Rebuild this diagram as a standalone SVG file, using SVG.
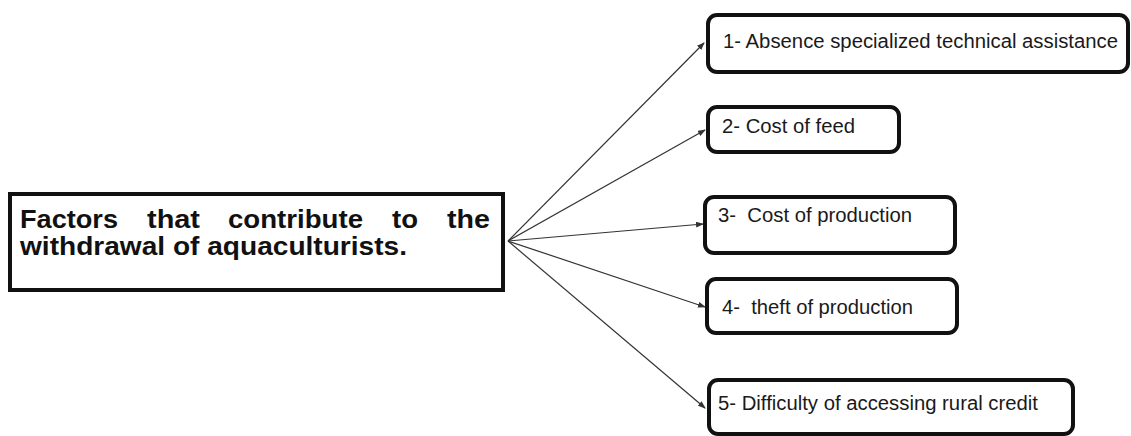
<svg xmlns="http://www.w3.org/2000/svg" width="1131" height="436" viewBox="0 0 1131 436">
<style>
.box{fill:#fff;stroke:#111;stroke-width:4}
.t{font-family:"Liberation Sans",Arial,sans-serif;font-size:20px;fill:#1a1a1a}
.m{font-family:"Liberation Sans",Arial,sans-serif;font-size:25px;font-weight:bold;fill:#111}
.c{stroke:#333;stroke-width:1.2;fill:none;marker-end:url(#ah)}
</style>
<defs>
<marker id="ah" markerWidth="8" markerHeight="6" refX="7" refY="3" orient="auto" markerUnits="userSpaceOnUse">
<path d="M0,0 L8,3 L0,6 Z" fill="#333"/>
</marker>
</defs>
<rect width="1131" height="436" fill="#fff"/>
<g id="connectors">
<line class="c" x1="508" y1="241" x2="704" y2="43"/>
<line class="c" x1="508" y1="241" x2="705" y2="130"/>
<line class="c" x1="508" y1="241" x2="703" y2="224"/>
<line class="c" x1="508" y1="241" x2="705" y2="307"/>
<line class="c" x1="508" y1="241" x2="705" y2="408"/>
</g>
<g id="main">
<rect class="box" x="10" y="194" width="493" height="96"/>
<text class="m" y="228"><tspan x="20" textLength="98" lengthAdjust="spacingAndGlyphs">Factors</tspan><tspan x="147" textLength="53" lengthAdjust="spacingAndGlyphs">that</tspan><tspan x="228" textLength="135" lengthAdjust="spacingAndGlyphs">contribute</tspan><tspan x="392" textLength="26" lengthAdjust="spacingAndGlyphs">to</tspan><tspan x="447" textLength="43" lengthAdjust="spacingAndGlyphs">the</tspan></text>
<text class="m" x="20" y="255" textLength="387" lengthAdjust="spacingAndGlyphs">withdrawal of aquaculturists.</text>
</g>
<g id="n1">
<rect class="box" x="708" y="15" width="420" height="57" rx="9"/>
<text class="t" x="723" y="48" textLength="395" lengthAdjust="spacingAndGlyphs">1- Absence specialized technical assistance</text>
</g>
<g id="n2">
<rect class="box" x="708" y="107" width="191" height="45" rx="9"/>
<text class="t" x="722" y="133" textLength="133" lengthAdjust="spacingAndGlyphs">2- Cost of feed</text>
</g>
<g id="n3">
<rect class="box" x="705" y="197" width="250" height="56" rx="9"/>
<text class="t" x="718" y="222" textLength="194" lengthAdjust="spacingAndGlyphs" xml:space="preserve">3-  Cost of production</text>
</g>
<g id="n4">
<rect class="box" x="707" y="279" width="250" height="54" rx="9"/>
<text class="t" x="722" y="314" textLength="191" lengthAdjust="spacingAndGlyphs" xml:space="preserve">4-  theft of production</text>
</g>
<g id="n5">
<rect class="box" x="709" y="380" width="364" height="54" rx="9"/>
<text class="t" x="718" y="410" textLength="320" lengthAdjust="spacingAndGlyphs">5- Difficulty of accessing rural credit</text>
</g>
</svg>
